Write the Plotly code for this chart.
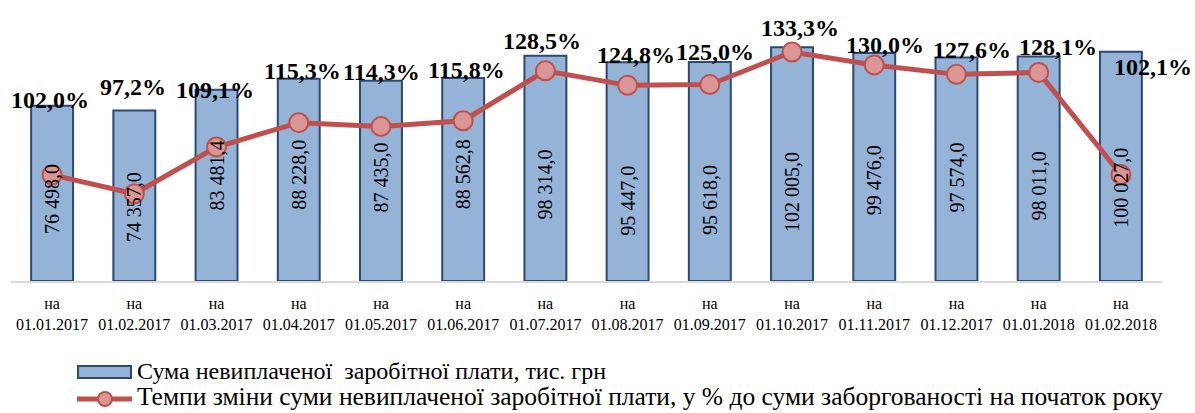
import plotly.graph_objects as go

# ---- data ----
dates = ["01.01.2017", "01.02.2017", "01.03.2017", "01.04.2017", "01.05.2017",
         "01.06.2017", "01.07.2017", "01.08.2017", "01.09.2017", "01.10.2017",
         "01.11.2017", "01.12.2017", "01.01.2018", "01.02.2018"]
debt = [76498.0, 74357.0, 83481.4, 88228.0, 87435.0, 88562.8, 98314.0,
        95447.0, 95618.0, 102005.0, 99476.0, 97574.0, 98011.0, 100027.0]
rate = [102.0, 97.2, 109.1, 115.3, 114.3, 115.8, 128.5, 124.8, 125.0,
        133.3, 130.0, 127.6, 128.1, 102.1]
bar_name = "Сума невиплаченої  заробітної плати, тис. грн"
line_name = "Темпи зміни суми невиплаченої заробітної плати, у % до суми заборгованості на початок року"

# ---- label placement (positions only, not data) ----
bar_label_y = [35800, 32300, 45800, 46300, 45200, 46700, 42300,
               34900, 35300, 38800, 44100, 45400, 41500, 40600]
pct_label_y = [79000, 84700, 83300, 91600, 91200, 92100, 104700,
               98600, 99900, 110400, 103000, 100800, 102100, 93400]
pct_label_dx = [-2, -1, -2, 4, 1, 3, -3, 8, 5, 8, 11, 16, 19, 32]

SERIF = "Liberation Serif, Times New Roman, DejaVu Serif, serif"
W, H = 1195, 413
L, R, T, B = 11, 1162, 6, 281

def fmt_num(v):
    s = f"{v:,.1f}".replace(",", " ").replace(".", ",")
    return s

def fmt_pct(v):
    return f"{v:.1f}".replace(".", ",") + "%"

ticks = ["на<br>" + d for d in dates]
x = list(range(len(dates)))

fig = go.Figure()
fig.add_trace(go.Bar(
    x=x, y=debt, name=bar_name,
    marker=dict(color="#95B3D7", line=dict(color="#2A4A73", width=2)),
    width=0.51, showlegend=False, hoverinfo="skip"))
fig.add_trace(go.Scatter(
    x=x, y=rate, name=line_name, yaxis="y2", mode="lines+markers",
    line=dict(color="#C0504D", width=5),
    marker=dict(size=19, color="#D99694", line=dict(color="#C0504D", width=2)),
    showlegend=False, hoverinfo="skip"))

ann = []
for i in x:
    ann.append(dict(x=i, y=bar_label_y[i], xref="x", yref="y", text=fmt_num(debt[i]),
                    textangle=-90, showarrow=False,
                    font=dict(family=SERIF, size=20, color="#000000")))
for i in x:
    ann.append(dict(x=i, y=pct_label_y[i], xref="x", yref="y", text="<b>" + fmt_pct(rate[i]) + "</b>",
                    xshift=pct_label_dx[i], showarrow=False,
                    font=dict(family=SERIF, size=24, color="#000000")))

def px(xp):
    return (xp - L) / (R - L)

def py(yp):
    return (B - yp) / (B - T)

# custom legend
ann.append(dict(x=px(136), y=py(371), xref="paper", yref="paper", xanchor="left", yanchor="middle",
                text=bar_name, showarrow=False, borderpad=0,
                font=dict(family=SERIF, size=24, color="#000000")))
ann.append(dict(x=px(136), y=py(396), xref="paper", yref="paper", xanchor="left", yanchor="middle",
                text=line_name, showarrow=False, borderpad=0,
                font=dict(family=SERIF, size=25.5, color="#000000")))
shapes = [
    dict(type="rect", xref="paper", yref="paper", x0=px(78), x1=px(131), y0=py(378), y1=py(366),
         fillcolor="#95B3D7", line=dict(color="#2A4A73", width=2)),
    dict(type="line", xref="paper", yref="paper", x0=px(77), x1=px(132), y0=py(399), y1=py(399),
         line=dict(color="#C0504D", width=5)),
    dict(type="circle", xref="paper", yref="paper", x0=px(98), x1=px(112), y0=py(406), y1=py(392),
         fillcolor="#D99694", line=dict(color="#C0504D", width=2)),
]

fig.update_layout(
    width=W, height=H, autosize=False,
    margin=dict(l=L, r=W - R, t=T, b=H - B, pad=0),
    paper_bgcolor="white", plot_bgcolor="white",
    bargap=0.49,
    xaxis=dict(tickmode="array", tickvals=x, ticktext=ticks, range=[-0.5, 13.5],
               showline=True, linecolor="#D9D9D9", linewidth=2, ticks="",
               showgrid=False, zeroline=False, ticklabelstandoff=7,
               tickfont=dict(family=SERIF, size=16, color="#000000")),
    yaxis=dict(range=[0, 120000], visible=False, showgrid=False, zeroline=False),
    yaxis2=dict(range=[75, 145], overlaying="y", side="right", visible=False,
                showgrid=False, zeroline=False),
    annotations=ann, shapes=shapes,
    showlegend=False,
)

fig.write_html("out.html")
